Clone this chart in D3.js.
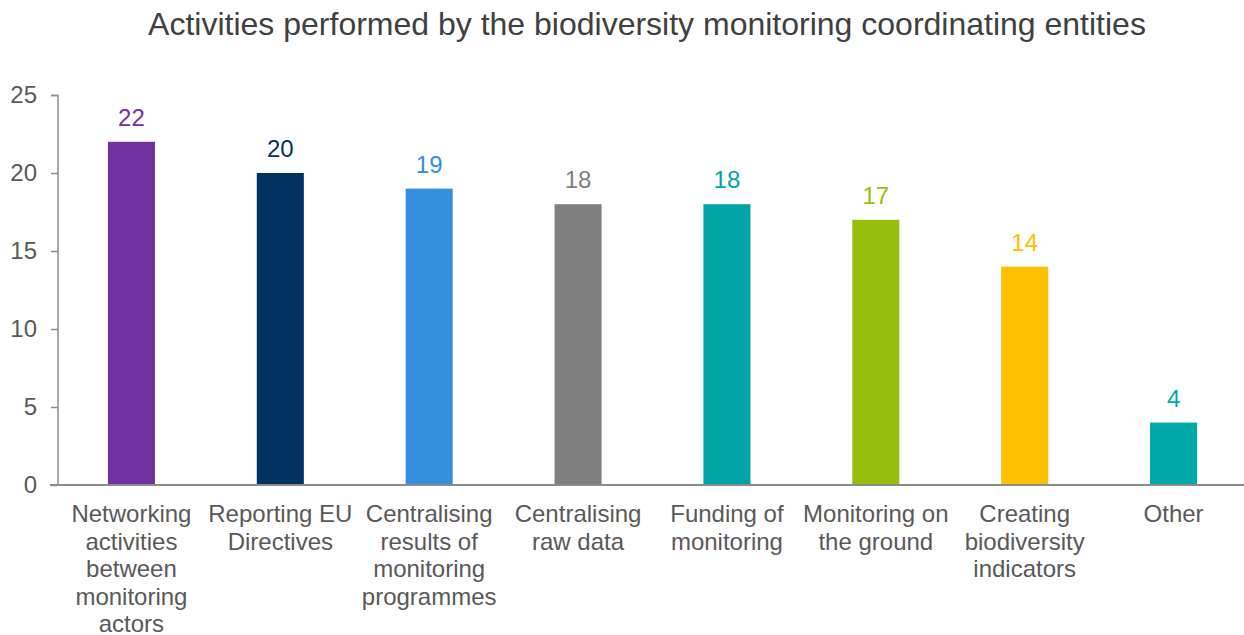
<!DOCTYPE html>
<html><head><meta charset="utf-8">
<script src="https://cdn.jsdelivr.net/npm/d3@7"></script>
<style>body{margin:0;background:#fff}svg{display:block}</style>
</head><body>
<svg id="c" width="1244" height="635"></svg>
<script>
const categories = [
  ["Networking","activities","between","monitoring","actors"],
  ["Reporting EU","Directives"],
  ["Centralising","results of","monitoring","programmes"],
  ["Centralising","raw data"],
  ["Funding of","monitoring"],
  ["Monitoring on","the ground"],
  ["Creating","biodiversity","indicators"],
  ["Other"]
];
const values = [22, 20, 19, 18, 18, 17, 14, 4];
const colors = ["#7030A0","#003361","#338FDE","#7F7F7F","#00A5A8","#97BE0D","#FFC000","#00A9A9"];
const yTicks = [0, 5, 10, 15, 20, 25];
const title = "Activities performed by the biodiversity monitoring coordinating entities";

const svg = d3.select("#c");
const font = "'Liberation Sans', Arial, sans-serif";
const x = d3.scaleBand().domain(d3.range(values.length)).range([57, 1248]).paddingInner(0.684).paddingOuter(0.342);
const y = d3.scaleLinear().domain([0, 25]).range([485, 95]);

svg.append("text").attr("x", 647).attr("y", 35).attr("text-anchor", "middle")
  .attr("font-family", font).attr("font-size", 32).attr("fill", "#404040").text(title);

const yAxis = svg.append("g").attr("transform", "translate(58,0)")
  .call(d3.axisLeft(y).tickValues(yTicks).tickSize(7).tickPadding(14).tickFormat(d3.format("d")));
yAxis.select(".domain").attr("stroke", "#8c8c8c").attr("stroke-width", 1.5).attr("d", "M-7,95.5H0V485");
yAxis.selectAll(".tick line").attr("stroke", "#8c8c8c").attr("stroke-width", 1.5);
yAxis.selectAll(".tick text").attr("font-family", font).attr("font-size", 24).attr("fill", "#595959");

svg.selectAll("rect.bar").data(values).join("rect").attr("class", "bar")
  .attr("x", (d, i) => x(i)).attr("width", x.bandwidth())
  .attr("y", d => y(d)).attr("height", d => y(0) - y(d))
  .attr("fill", (d, i) => colors[i]);

svg.append("line").attr("x1", 50).attr("x2", 1244).attr("y1", y(0)).attr("y2", y(0))
  .attr("stroke", "#8c8c8c").attr("stroke-width", 2);

svg.selectAll("text.val").data(values).join("text").attr("class", "val")
  .attr("x", (d, i) => x(i) + x.bandwidth() / 2).attr("y", d => y(d) - 16)
  .attr("text-anchor", "middle").attr("font-family", font).attr("font-size", 24)
  .attr("fill", (d, i) => colors[i]).text(d => d);

const cat = svg.selectAll("text.cat").data(categories).join("text").attr("class", "cat")
  .attr("text-anchor", "middle").attr("font-family", font).attr("font-size", 24).attr("fill", "#595959");
cat.each(function(lines, i) {
  const t = d3.select(this);
  lines.forEach((l, j) => {
    t.append("tspan").attr("x", x(i) + x.bandwidth() / 2).attr("y", 522 + j * 27.6).text(l);
  });
});
</script>
</body></html>
